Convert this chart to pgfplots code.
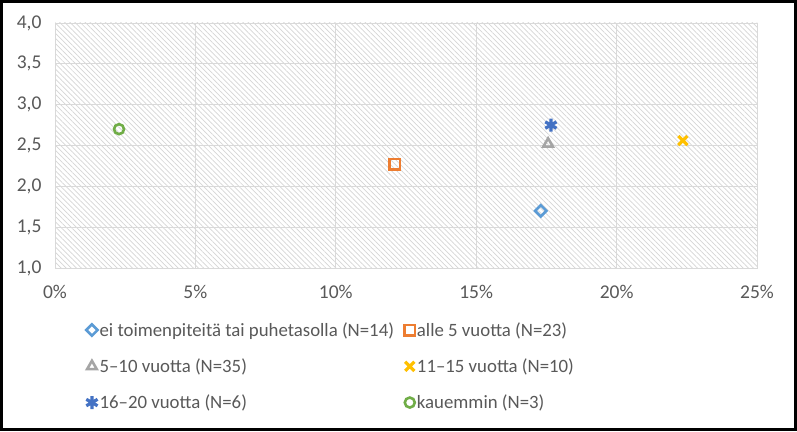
\documentclass[border=0pt]{standalone}
\usepackage{pgfplots}
\pgfplotsset{compat=1.18}
\usetikzlibrary{patterns.meta}
\usepackage{fontspec}
\setmainfont{Carlito}
\definecolor{cA}{HTML}{5B9BD5}
\definecolor{cB}{HTML}{ED7D31}
\definecolor{cC}{HTML}{A5A5A5}
\definecolor{cD}{HTML}{FFC000}
\definecolor{cE}{HTML}{4472C4}
\definecolor{cF}{HTML}{70AD47}
\definecolor{txt}{HTML}{595959}
\definecolor{gridc}{HTML}{D9D9D9}
\definecolor{patc}{HTML}{D6D6D6}
\newcommand{\colA}[1]{\makebox[303pt][l]{#1}}
\begin{document}
\begin{tikzpicture}[x=1pt,y=1pt]
\path[use as bounding box] (0,0) rectangle (797,431);
\fill[white] (0,0) rectangle (797,431);
\begin{axis}[
  at={(55pt,163pt)}, anchor=south west,
  scale only axis, width=702pt, height=245pt,
  xmin=0, xmax=25, ymin=1, ymax=4,
  xtick={0,5,10,15,20,25},
  xticklabels={0\%,5\%,10\%,15\%,20\%,25\%},
  ytick={1,1.5,2,2.5,3,3.5,4},
  yticklabels={{1,0},{1,5},{2,0},{2,5},{3,0},{3,5},{4,0}},
  tick label style={font=\fontsize{19.5}{22}\selectfont, text=txt},
  y tick label style={xshift=-10pt},
  x tick label style={yshift=-14pt},
  major tick length=0pt,
  grid=major,
  grid style={draw=gridc, line width=0.9pt},
  axis line style={draw=gridc, line width=0.9pt},
  axis background/.style={pattern={Lines[angle=-45,distance=3.6pt,line width=0.7pt]}, pattern color=patc},
  legend columns=2,
  legend cell align=left,
  legend style={draw=none, fill=none, at={(0.04,-0.205)}, anchor=north west,
    font=\fontsize{18.8}{22}\selectfont, text=txt, row sep=17pt,
    /tikz/every even column/.append style={column sep=0pt}},
  every axis plot/.append style={only marks, line width=2.6pt, mark options={line width=2.6pt}},
]
\addplot[mark=square, mark size=4pt, cA, mark options={rotate=45}] coordinates {(17.3,1.70)};
\addlegendentry{\colA{ei toimenpiteitä tai puhetasolla (N=14)}}
\addplot[mark=square, mark size=5.2pt, cB] coordinates {(12.1,2.27)};
\addlegendentry{alle 5 vuotta (N=23)}
\addplot[mark=triangle, mark size=5.5pt, cC] coordinates {(17.56,2.52)};
\addlegendentry{\colA{5–10 vuotta (N=35)}}
\addplot[mark=x, mark size=6.5pt, cD, mark options={line width=3.2pt}] coordinates {(22.36,2.56)};
\addlegendentry{11–15 vuotta (N=10)}
\addplot[mark=asterisk, mark size=6.5pt, cE, mark options={line width=3.2pt}] coordinates {(17.66,2.75)};
\addlegendentry{\colA{16–20 vuotta (N=6)}}
\addplot[mark=o, mark size=5pt, cF] coordinates {(2.28,2.70)};
\addlegendentry{kauemmin (N=3)}
\end{axis}
\draw[black, line width=3pt] (1.5,1.5) rectangle (795.5,429.5);
\end{tikzpicture}
\end{document}
